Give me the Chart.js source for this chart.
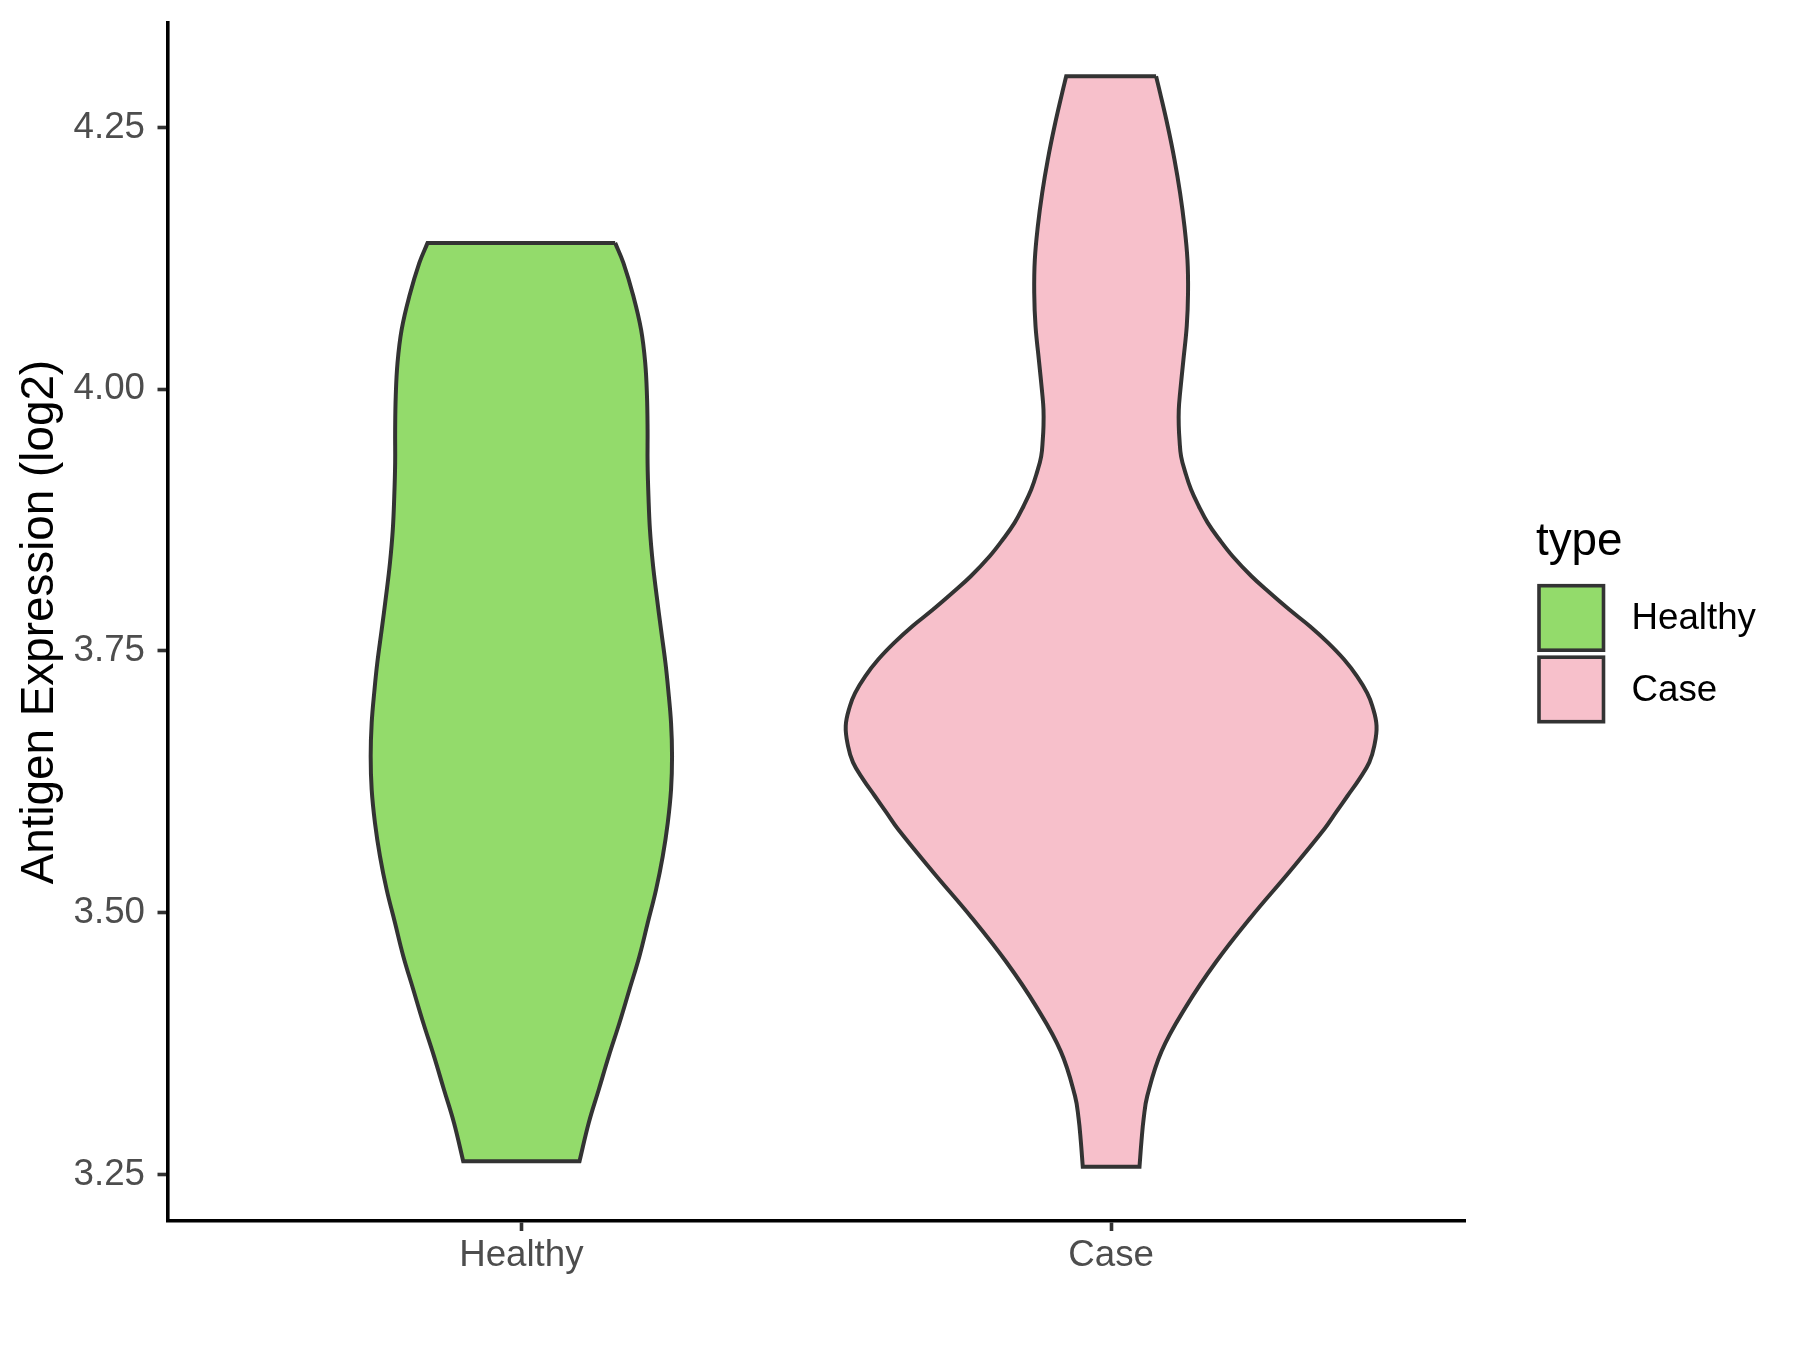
<!DOCTYPE html>
<html>
<head>
<meta charset="utf-8">
<script src="https://cdn.jsdelivr.net/npm/chart.js@4/dist/chart.umd.min.js"></script>
<style>
  html, body { margin: 0; padding: 0; background: #ffffff; }
  #wrap { width: 1800px; height: 1350px; position: relative; }
</style>
</head>
<body>
<div id="wrap"><canvas id="c" width="1800" height="1350"></canvas></div>
<script>
// ---- data ----
const categories = ['Healthy', 'Case'];
const legendTitle = 'type';
const yTitle = 'Antigen Expression (log2)';
const yTicks = [3.25, 3.50, 3.75, 4.00, 4.25];

// Healthy violin: expression values (top -> bottom) and half-widths of the density outline (category units)
const healthyValues  = [4.1397, 4.1206, 4.0887, 4.0569, 4.0251, 3.9932, 3.9614, 3.9296, 3.8977, 3.8659, 3.8341, 3.8022, 3.7704, 3.7386, 3.7131, 3.6813, 3.6494, 3.6176, 3.5858, 3.5539, 3.5221, 3.4904, 3.4585, 3.4267, 3.3949, 3.3630, 3.3312, 3.2994, 3.2627];
const healthyDensity = [0.159, 0.173, 0.190, 0.203, 0.210, 0.213, 0.214, 0.214, 0.2155, 0.218, 0.2228, 0.2295, 0.2368, 0.2443, 0.249, 0.2538, 0.2555, 0.2538, 0.2482, 0.2397, 0.2284, 0.2143, 0.2002, 0.1833, 0.1664, 0.1482, 0.1313, 0.1143, 0.0986];

// Case violin
const caseValues  = [4.2988, 4.2830, 4.2511, 4.2193, 4.1874, 4.1556, 4.1237, 4.0920, 4.0601, 4.0283, 3.9965, 3.9805, 3.9646, 3.9519, 3.9359, 3.9201, 3.9041, 3.8882, 3.8723, 3.8564, 3.8404, 3.8213, 3.8055, 3.7895, 3.7736, 3.7577, 3.7418, 3.7258, 3.7100, 3.6972, 3.6785, 3.6594, 3.6436, 3.6276, 3.6117, 3.5958, 3.5799, 3.5382, 3.4955, 3.4529, 3.4103, 3.3676, 3.3251, 3.3037, 3.2824, 3.2575];
const caseDensity = [0.0762, 0.083, 0.096, 0.1074, 0.1169, 0.1243, 0.1294, 0.1304, 0.1282, 0.1226, 0.1169, 0.1147, 0.1147, 0.1159, 0.1186, 0.126, 0.1355, 0.1486, 0.1638, 0.1836, 0.206, 0.238, 0.269, 0.302, 0.337, 0.368, 0.395, 0.417, 0.434, 0.443, 0.450, 0.4462, 0.4377, 0.4208, 0.401, 0.3812, 0.3615, 0.301, 0.2367, 0.1777, 0.127, 0.0854, 0.0613, 0.0552, 0.0515, 0.0481];

const fillColors = ['#93DB6B', '#F7C0CB'];
const outlineColor = '#333333';

// closed outline: right side downwards, flat bottom, left side upwards, flat top.
// End points are repeated so the spline keeps sharp corners at the flat ends.
function violinPoints(center, values, density) {
  const n = values.length;
  const right = values.map((v, i) => ({ x: center + density[i], y: v }));
  const left = values.map((v, i) => ({ x: center - density[i], y: v })).reverse();
  const pts = [right[0], ...right, right[n - 1], left[0], ...left, left[n - 1], right[0]];
  return pts.map(p => ({ x: p.x, y: p.y }));
}

const FONT = "'Liberation Sans', Arial, Helvetica, sans-serif";

const legendPlugin = {
  id: 'ggLegend',
  afterDraw(chart) {
    const ctx = chart.ctx;
    ctx.save();
    ctx.fillStyle = '#000000';
    ctx.font = '45.8px ' + FONT;
    ctx.textAlign = 'left';
    ctx.textBaseline = 'alphabetic';
    ctx.fillText(legendTitle, 1536, 555);
    const boxX = 1539, boxSize = 64.5;
    const boxYs = [585.7, 657.2];
    categories.forEach((cat, i) => {
      ctx.fillStyle = fillColors[i];
      ctx.fillRect(boxX, boxYs[i], boxSize, boxSize);
      ctx.lineWidth = 3.6;
      ctx.strokeStyle = outlineColor;
      ctx.strokeRect(boxX, boxYs[i], boxSize, boxSize);
      ctx.fillStyle = '#000000';
      ctx.font = '36.7px ' + FONT;
      ctx.textBaseline = 'middle';
      ctx.fillText(cat, 1631.5, boxYs[i] + boxSize / 2 + 1);
    });
    ctx.restore();
  }
};

function violinDataset(i, values, density) {
  return {
    label: categories[i],
    data: violinPoints(i + 1, values, density),
    showLine: true, fill: 'shape', tension: 0.4,
    backgroundColor: fillColors[i], borderColor: outlineColor, borderWidth: 4,
    pointRadius: 0, pointHoverRadius: 0, borderJoinStyle: 'miter'
  };
}

new Chart(document.getElementById('c'), {
  type: 'scatter',
  data: {
    datasets: [
      violinDataset(0, healthyValues, healthyDensity),
      violinDataset(1, caseValues, caseDensity)
    ]
  },
  options: {
    responsive: false,
    animation: false,
    events: [],
    layout: { padding: { left: 0, right: 335, top: 23.2, bottom: 0 } },
    plugins: { legend: { display: false }, tooltip: { enabled: false } },
    scales: {
      x: {
        type: 'linear', min: 0.4, max: 2.6,
        afterFit(s) { s.height = 129; s.paddingLeft = 0; s.paddingRight = 0; },
        afterBuildTicks(s) { s.ticks = categories.map((c, i) => ({ value: i + 1 })); },
        grid: { display: true, drawOnChartArea: false, drawTicks: true, tickLength: 10, tickColor: '#333333', tickWidth: 3.6 },
        border: { display: true, color: '#000000', width: 3.6 },
        ticks: {
          padding: 3, color: '#4D4D4D', font: { family: FONT, size: 36.7 },
          maxRotation: 0, autoSkip: false,
          callback: (v) => categories[Math.round(v) - 1]
        }
      },
      y: {
        type: 'linear', min: 3.2056, max: 4.3495,
        afterFit(s) { s.width = 167.5; s.paddingTop = 0; s.paddingBottom = 0; },
        afterBuildTicks(s) { s.ticks = yTicks.map(v => ({ value: v })); },
        grid: { display: true, drawOnChartArea: false, drawTicks: true, tickLength: 10, tickColor: '#333333', tickWidth: 3.6 },
        border: { display: true, color: '#000000', width: 3.6 },
        ticks: {
          padding: 12.5, color: '#4D4D4D', font: { family: FONT, size: 36.7 },
          autoSkip: false,
          callback: (v) => Number(v).toFixed(2)
        },
        title: {
          display: true, text: yTitle, color: '#000000',
          font: { family: FONT, size: 45.8, lineHeight: 1 },
          padding: { top: 17, bottom: 0 }
        }
      }
    }
  },
  plugins: [legendPlugin]
});
</script>
</body>
</html>
